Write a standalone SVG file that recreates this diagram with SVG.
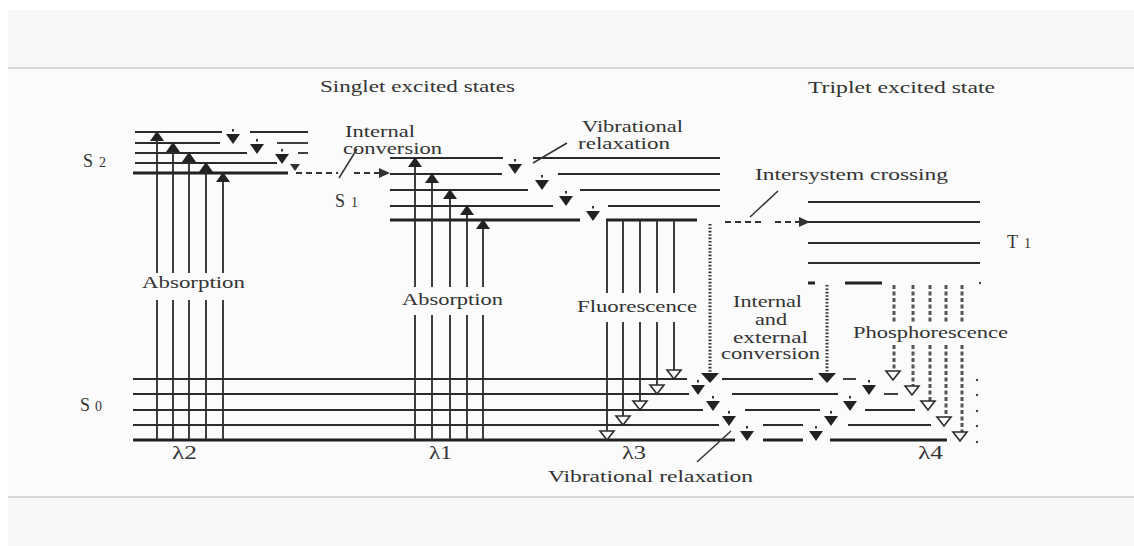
<svg xmlns="http://www.w3.org/2000/svg" xmlns:xlink="http://www.w3.org/1999/xlink" width="1134" height="546" viewBox="0 0 1134 546">
  <style>
    .lv { stroke: #2b2b2b; stroke-width: 1.8; fill: none; }
    .lvb { stroke: #222; stroke-width: 3; fill: none; }
    .sh { stroke: #2b2b2b; stroke-width: 1.8; fill: none; }
    .dot { stroke: #333; stroke-width: 3; stroke-dasharray: 1.6 1.8; fill: none; }
    .phos { stroke: #555; stroke-width: 3; stroke-dasharray: 4 2.5; fill: none; }
    .dash { stroke: #333; stroke-width: 1.8; stroke-dasharray: 6 4; fill: none; }
    .lead { stroke: #333; stroke-width: 1.5; fill: none; }
    .lbl { font-family: "Liberation Serif", "DejaVu Serif", serif; font-size: 16px; fill: #333; }
    .hdr { font-family: "Liberation Serif", "DejaVu Serif", serif; font-size: 17px; fill: #333; }
    .sym { font-family: "Liberation Serif", "DejaVu Serif", serif; font-size: 18px; fill: #333; }
    .lam { font-family: "Liberation Serif", "DejaVu Serif", serif; font-size: 18px; fill: #333; }
  </style>
  <defs>
    <!-- filled upward head, tip at origin -->
    <polygon id="up" points="-7,10 7,10 0,0" fill="#222"/>
    <!-- vibrational relaxation step: dotted stem and filled head, tip at origin -->
    <g id="vr">
      <rect x="-1" y="-15" width="2" height="2.5" fill="#333"/>
      <polygon points="-7,-10 7,-10 0,0" fill="#222"/>
    </g>
    <!-- open downward head, tip at origin -->
    <polygon id="open" points="-7,-9 7,-9 0,0" fill="#fafafa" stroke="#2b2b2b" stroke-width="1.6"/>
    <!-- rightward head for crossings -->
    <polygon id="right" points="-11,-5 -11,5 0,0" fill="#333"/>
  </defs>

  <!-- page -->
  <rect x="0" y="0" width="1134" height="546" fill="#ffffff"/>
  <rect x="8" y="10" width="1126" height="536" fill="#f7f7f7"/>
  <rect x="8" y="68" width="1126" height="429" fill="#fbfbfb"/>
  <line x1="8" y1="68" x2="1134" y2="68" stroke="#c9ced2" stroke-width="1.5"/>
  <line x1="8" y1="497" x2="1134" y2="497" stroke="#c9ced2" stroke-width="1.5"/>

  <!-- headings -->
  <text class="hdr" x="320" y="92" textLength="195" lengthAdjust="spacingAndGlyphs">Singlet excited states</text>
  <text class="hdr" x="808" y="93" textLength="187" lengthAdjust="spacingAndGlyphs">Triplet excited state</text>

  <!-- S2 manifold -->
  <g id="S2">
    <line class="lv" x1="135" y1="132" x2="222" y2="132"/>
    <line class="lv" x1="250" y1="132" x2="308" y2="132"/>
    <line class="lv" x1="135" y1="143" x2="220" y2="143"/>
    <line class="lv" x1="277" y1="143" x2="308" y2="143"/>
    <line class="lv" x1="135" y1="153" x2="247" y2="153"/>
    <line class="lv" x1="298" y1="153" x2="308" y2="153"/>
    <line class="lv" x1="135" y1="163" x2="277" y2="163"/>
    <line class="lvb" x1="133" y1="173" x2="288" y2="173"/>
    <text class="sym" x="83" y="167">S<tspan dx="6" font-size="14">2</tspan></text>
  </g>

  <!-- S1 manifold -->
  <g id="S1">
    <line class="lv" x1="390" y1="158" x2="503" y2="158"/>
    <line class="lv" x1="533" y1="158" x2="720" y2="158"/>
    <line class="lv" x1="390" y1="174" x2="502" y2="174"/>
    <line class="lv" x1="558" y1="174" x2="720" y2="174"/>
    <line class="lv" x1="390" y1="190" x2="528" y2="190"/>
    <line class="lv" x1="580" y1="190" x2="720" y2="190"/>
    <line class="lv" x1="390" y1="206" x2="553" y2="206"/>
    <line class="lv" x1="608" y1="206" x2="720" y2="206"/>
    <line class="lvb" x1="390" y1="220" x2="580" y2="220"/>
    <line class="lvb" x1="606" y1="220" x2="697" y2="220"/>
    <text class="sym" x="335" y="207">S<tspan dx="6" font-size="14">1</tspan></text>
  </g>

  <!-- T1 manifold -->
  <g id="T1">
    <line class="lv" x1="808" y1="202" x2="980" y2="202"/>
    <line class="lv" x1="808" y1="222" x2="980" y2="222"/>
    <line class="lv" x1="808" y1="243" x2="980" y2="243"/>
    <line class="lv" x1="808" y1="263" x2="980" y2="263"/>
    <line class="lvb" x1="808" y1="283" x2="815" y2="283"/>
    <line class="lvb" x1="845" y1="283" x2="882" y2="283"/>
    <circle cx="980" cy="283" r="1.2" fill="#444"/>
    <text class="sym" x="1007" y="248">T<tspan dx="6" font-size="14">1</tspan></text>
  </g>

  <!-- S0 manifold -->
  <g id="S0">
    <line class="lv" x1="133" y1="379" x2="687" y2="379"/>
    <line class="lv" x1="722" y1="379" x2="813" y2="379"/>
    <line class="lv" x1="843" y1="379" x2="856" y2="379"/>
    <line class="lv" x1="133" y1="394" x2="689" y2="394"/>
    <line class="lv" x1="732" y1="394" x2="838" y2="394"/>
    <line class="lv" x1="884" y1="394" x2="898" y2="394"/>
    <line class="lv" x1="133" y1="410" x2="703" y2="410"/>
    <line class="lv" x1="745" y1="410" x2="820" y2="410"/>
    <line class="lv" x1="865" y1="410" x2="915" y2="410"/>
    <line class="lv" x1="133" y1="425" x2="719" y2="425"/>
    <line class="lv" x1="763" y1="425" x2="803" y2="425"/>
    <line class="lv" x1="848" y1="425" x2="931" y2="425"/>
    <line class="lvb" x1="133" y1="440" x2="735" y2="440"/>
    <line class="lvb" x1="763" y1="440" x2="803" y2="440"/>
    <line class="lvb" x1="830" y1="440" x2="947" y2="440"/>
    <circle cx="977" cy="380" r="1.2" fill="#444"/>
    <circle cx="977" cy="395" r="1.2" fill="#444"/>
    <circle cx="977" cy="411" r="1.2" fill="#444"/>
    <circle cx="977" cy="426" r="1.2" fill="#444"/>
    <circle cx="977" cy="442" r="1.2" fill="#444"/>
    <text class="sym" x="80" y="411">S<tspan dx="5" font-size="14">0</tspan></text>
  </g>

  <!-- transitions -->
  <g id="connectors">
    <!-- absorption S0 -> S2, broken around the label -->
    <path class="sh" d="M157,440V300M157,273V140 M173,440V300M173,273V151 M189,440V300M189,273V161 M206,440V300M206,273V171 M223,440V300M223,273V181"/>
    <use xlink:href="#up" x="157" y="131"/>
    <use xlink:href="#up" x="173" y="142"/>
    <use xlink:href="#up" x="189" y="152"/>
    <use xlink:href="#up" x="206" y="162"/>
    <use xlink:href="#up" x="223" y="172"/>

    <!-- absorption S0 -> S1, broken around the label -->
    <path class="sh" d="M415,440V315M415,287V166 M432,440V315M432,287V182 M450,440V315M450,287V198 M467,440V315M467,287V214 M483,440V315M483,287V228"/>
    <use xlink:href="#up" x="415" y="157"/>
    <use xlink:href="#up" x="432" y="173"/>
    <use xlink:href="#up" x="450" y="189"/>
    <use xlink:href="#up" x="467" y="205"/>
    <use xlink:href="#up" x="483" y="219"/>

    <!-- vibrational relaxation in S2 -->
    <use xlink:href="#vr" x="233" y="144"/>
    <use xlink:href="#vr" x="257" y="154"/>
    <use xlink:href="#vr" x="282" y="164"/>
    <polygon points="290,164 300,164 295,171" fill="#333"/>

    <!-- internal conversion S2 -> S1 -->
    <line class="dash" x1="296" y1="173" x2="338" y2="173"/>
    <line class="dash" x1="354" y1="173" x2="380" y2="173"/>
    <use xlink:href="#right" x="390" y="173"/>

    <!-- vibrational relaxation in S1 -->
    <use xlink:href="#vr" x="515" y="174"/>
    <use xlink:href="#vr" x="542" y="190"/>
    <use xlink:href="#vr" x="566" y="206"/>
    <use xlink:href="#vr" x="593" y="221"/>

    <!-- fluorescence S1 -> S0 -->
    <path class="sh" d="M607,220V293M607,322V431 M623,220V293M623,322V416 M640,220V293M640,322V401 M657,220V293M657,322V385 M674,220V293M674,322V371"/>
    <use xlink:href="#open" x="607" y="440"/>
    <use xlink:href="#open" x="623" y="425"/>
    <use xlink:href="#open" x="640" y="410"/>
    <use xlink:href="#open" x="657" y="394"/>
    <use xlink:href="#open" x="674" y="379"/>

    <!-- internal conversion S1 -> S0 -->
    <line class="dot" x1="710" y1="224" x2="710" y2="372"/>
    <polygon points="701,373 719,373 710,383" fill="#222"/>

    <!-- intersystem crossing S1 -> T1 -->
    <line class="dash" x1="725" y1="222" x2="765" y2="222"/>
    <line class="dash" x1="775" y1="222" x2="800" y2="222"/>
    <use xlink:href="#right" x="810" y="222"/>

    <!-- internal and external conversion T1 -> S0 -->
    <line class="dot" x1="827" y1="285" x2="827" y2="372"/>
    <polygon points="818,373 836,373 827,383" fill="#222"/>

    <!-- phosphorescence T1 -> S0 -->
    <path class="phos" d="M894,285V322M894,345V370 M913,285V322M913,345V386 M930,285V322M930,345V401 M946,285V322M946,345V417 M962,285V322M962,345V432"/>
    <use xlink:href="#open" x="893" y="380"/>
    <use xlink:href="#open" x="912" y="395"/>
    <use xlink:href="#open" x="928" y="410"/>
    <use xlink:href="#open" x="944" y="426"/>
    <use xlink:href="#open" x="960" y="441"/>

    <!-- vibrational relaxation in S0 -->
    <use xlink:href="#vr" x="698" y="395"/>
    <use xlink:href="#vr" x="713" y="411"/>
    <use xlink:href="#vr" x="729" y="426"/>
    <use xlink:href="#vr" x="747" y="441"/>
    <use xlink:href="#vr" x="869" y="395"/>
    <use xlink:href="#vr" x="850" y="411"/>
    <use xlink:href="#vr" x="831" y="426"/>
    <use xlink:href="#vr" x="816" y="441"/>

    <!-- label leaders -->
    <line class="lead" x1="339" y1="178" x2="357" y2="149"/>
    <line class="lead" x1="533" y1="163" x2="567" y2="143"/>
    <line class="lead" x1="750" y1="217" x2="778" y2="191"/>
    <line class="lead" x1="697" y1="462" x2="731" y2="431"/>
  </g>

  <!-- labels -->
  <g id="labels">
    <text class="lbl" x="345" y="137" textLength="70" lengthAdjust="spacingAndGlyphs">Internal</text>
    <text class="lbl" x="343" y="154" textLength="99" lengthAdjust="spacingAndGlyphs">conversion</text>
    <text class="lbl" x="582" y="132" textLength="101" lengthAdjust="spacingAndGlyphs">Vibrational</text>
    <text class="lbl" x="578" y="149" textLength="92" lengthAdjust="spacingAndGlyphs">relaxation</text>
    <text class="lbl" x="755" y="180" textLength="193" lengthAdjust="spacingAndGlyphs">Intersystem crossing</text>
    <text class="lbl" x="142" y="288" textLength="103" lengthAdjust="spacingAndGlyphs">Absorption</text>
    <text class="lbl" x="402" y="305" textLength="101" lengthAdjust="spacingAndGlyphs">Absorption</text>
    <text class="lbl" x="577" y="312" textLength="120" lengthAdjust="spacingAndGlyphs">Fluorescence</text>
    <text class="lbl" x="733" y="307" textLength="69" lengthAdjust="spacingAndGlyphs">Internal</text>
    <text class="lbl" x="755" y="325" textLength="32" lengthAdjust="spacingAndGlyphs">and</text>
    <text class="lbl" x="733" y="343" textLength="75" lengthAdjust="spacingAndGlyphs">external</text>
    <text class="lbl" x="721" y="359" textLength="99" lengthAdjust="spacingAndGlyphs">conversion</text>
    <text class="lbl" x="853" y="338" textLength="155" lengthAdjust="spacingAndGlyphs">Phosphorescence</text>
    <text class="lam" x="172" y="459" textLength="25" lengthAdjust="spacingAndGlyphs">λ2</text>
    <text class="lam" x="429" y="459" textLength="23" lengthAdjust="spacingAndGlyphs">λ1</text>
    <text class="lam" x="622" y="459" textLength="24" lengthAdjust="spacingAndGlyphs">λ3</text>
    <text class="lam" x="918" y="459" textLength="25" lengthAdjust="spacingAndGlyphs">λ4</text>
    <text class="lbl" x="548" y="482" textLength="205" lengthAdjust="spacingAndGlyphs">Vibrational relaxation</text>
  </g>
</svg>
